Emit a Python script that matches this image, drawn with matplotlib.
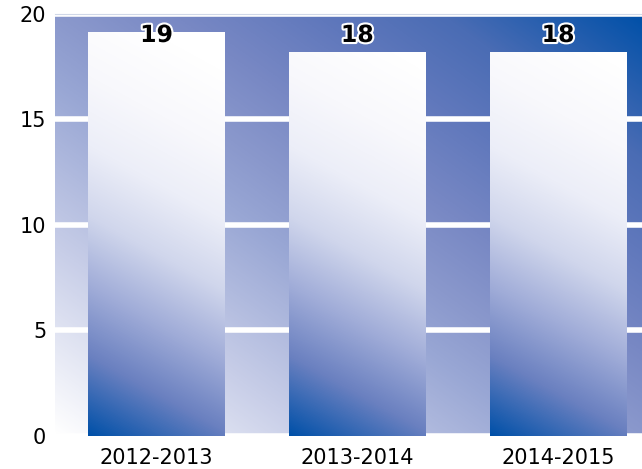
import numpy as np
import matplotlib
matplotlib.use("Agg")
import matplotlib.pyplot as plt
from matplotlib.colors import LinearSegmentedColormap
import matplotlib.patheffects as pe

# data
seasons = ["2012-2013", "2013-2014", "2014-2015"]
values = [19.1, 18.15, 18.15]
yticks = [0, 5, 10, 15, 20]

plt.rcParams['font.family'] = ['DejaVu Sans']

bg_cmap = LinearSegmentedColormap.from_list("bg", [
    (0.0, "#ffffff"), (0.22, "#c8cee8"), (0.42, "#98a6d4"), (0.5, "#8a98cc"),
    (0.6, "#7888c4"), (0.72, "#6078bc"), (0.83, "#4a6cb4"), (1.0, "#0050a8")])
bar_cmap = LinearSegmentedColormap.from_list("bar", [
    (0.0, "#0050a8"), (0.18, "#6a80c0"), (0.34, "#a0acd8"), (0.5, "#d0d6ec"),
    (0.66, "#eceef8"), (0.82, "#f8f8fc"), (1.0, "#ffffff")])

fig = plt.figure(figsize=(6.42, 4.69), dpi=100)
ax = fig.add_axes([0.085, 0.0704, 0.915, 0.900])
xlim = (-0.508, 2.418)
ylim = (0, 20)
ax.set_xlim(*xlim)
ax.set_ylim(*ylim)

# background gradient, white bottom-left -> blue top-right
u, v = np.meshgrid(np.linspace(0, 1, 300), np.linspace(0, 1, 300))
ax.imshow((u + v) / 2, cmap=bg_cmap, vmin=0, vmax=1, origin="lower",
          extent=(*xlim, *ylim), aspect="auto", zorder=0, interpolation="bilinear")

ax.set_yticks(yticks)
ax.yaxis.grid(True, color="white", linewidth=4)
ax.set_axisbelow(True)

x = np.arange(len(seasons))
bars = ax.bar(x, values, width=0.68, color="none", zorder=2)

# pixels per data unit, for the bar gradients
bbox = ax.get_window_extent()
pxx = bbox.width / (xlim[1] - xlim[0])
pxy = bbox.height / (ylim[1] - ylim[0])

for b in bars:
    x0, w, h = b.get_x(), b.get_width(), b.get_height()
    bu, bv = np.meshgrid(np.linspace(0, w * pxx, 150), np.linspace(0, h * pxy, 400))
    t = np.clip((bv + 0.55 * bu) / 440, 0, 1)
    ax.imshow(t, cmap=bar_cmap, vmin=0, vmax=1, origin="lower",
              extent=(x0, x0 + w, 0, h), aspect="auto", zorder=2.5,
              interpolation="bilinear")

for xi, val in zip(x, values):
    ax.text(xi, 19.0, f"{val:.0f}", ha="center", va="center", fontsize=17,
            fontweight="bold", color="black", zorder=5,
            path_effects=[pe.withStroke(linewidth=3, foreground="white")])

ax.set_xlim(*xlim)
ax.set_ylim(*ylim)
ax.set_xticks(x)
ax.set_xticklabels(seasons)
ax.tick_params(axis="both", length=0, labelsize=15, colors="black")
ax.tick_params(axis="x", pad=9)
ax.tick_params(axis="y", pad=6)
for s in ["left", "right", "bottom"]:
    ax.spines[s].set_visible(False)
ax.spines["top"].set_color("#d0d8e8")
ax.spines["top"].set_linewidth(0.8)

fig.savefig("out.png", dpi=100)
